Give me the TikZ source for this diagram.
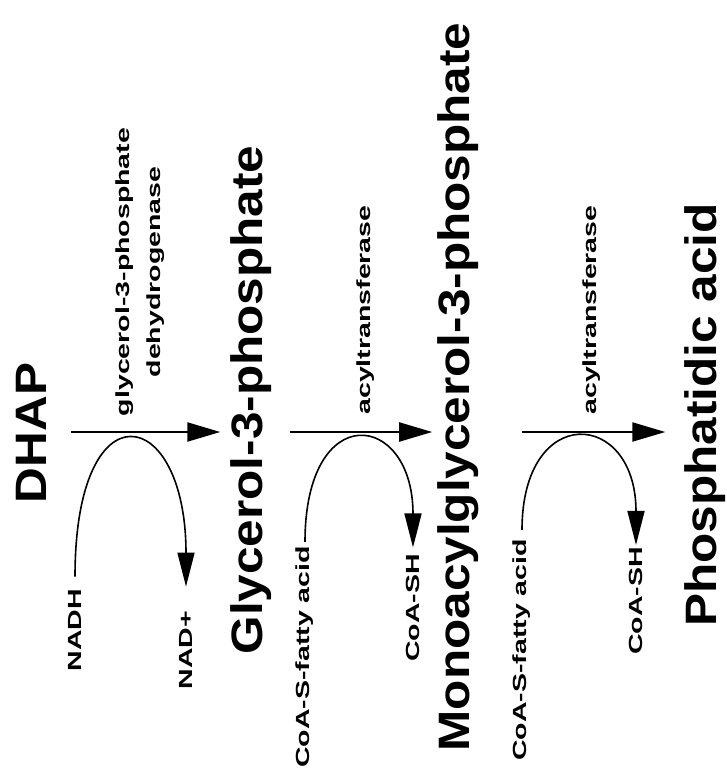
\documentclass[tikz,border=0pt]{standalone}
\usepackage{fontspec}
\setmainfont{Liberation Sans}
\newfontfamily\compoundfont[FakeStretch=1.125]{Liberation Sans}
\newfontfamily\agentfont[FakeStretch=1.5]{Liberation Sans}
\usetikzlibrary{arrows.meta}
\tikzset{
	compound/.style={
		rotate=90,
		inner sep=0pt,
		font=\compoundfont\bfseries\fontsize{44}{50}\selectfont
	},
	agent/.style={
		rotate=90,
		inner sep=0pt,
		font=\agentfont\bfseries\fontsize{19}{31}\selectfont
	},
	reaction/.style={
		-{Triangle[length=33pt,width=19pt]},
		line width=2.2pt
	},
	cofactor/.style={
		-{Triangle[length=34pt,width=17pt]},
		line width=1.6pt
	}
}

\begin{document}
\begin{tikzpicture}[x=1pt,y=-1pt]
	\useasboundingbox (0,0) rectangle (726,784);
	\coordinate (level) at (0,432);

	% Compounds
	\node[compound] (dhap) at (31,433) {DHAP};
	\node[compound] (g3p) at (251,400) {Glycerol-3-phosphate};
	\node[compound] (mag3p) at (458,387) {Monoacylglycerol-3-phosphate};
	\node[compound] (pa) at (705,415) {Phosphatidic acid};

	% Enzymes
	\node[agent, align=center] (gpdh) at (140,272) {glycerol-3-phosphate\\dehydrogenase};
	\node[agent] (acyl1) at (366,310) {acyltransferase};
	\node[agent] (acyl2) at (592,310) {acyltransferase};

	% Cofactors
	\node[agent] (nadh) at (75,630) {NADH};
	\node[agent] (nadp) at (186,650) {NAD+};
	\node[agent] (coas1) at (305,657) {CoA-S-fatty acid};
	\node[agent] (coash1) at (413,608) {CoA-SH};
	\node[agent] (coas2) at (522,650) {CoA-S-fatty acid};
	\node[agent] (coash2) at (636,601) {CoA-SH};

	% Reactions
	\draw[reaction, shorten <=25pt, shorten >=10pt] (dhap.south |- level) -- (level -| g3p.north);
	\draw[reaction, shorten <=18pt, shorten >=5pt] (g3p.south |- level) -- (level -| mag3p.north);
	\draw[reaction, shorten <=43pt, shorten >=19pt] (mag3p.south |- level) -- (level -| pa.north);

	% Cofactor loops
	\draw[cofactor, shorten <=12pt, shorten >=24pt] (nadh.east) .. controls +(0,-205) and +(0,-207) .. (nadp.east);
	\draw[cofactor, shorten <=4pt, shorten >=6.5pt] (coas1.east) .. controls +(0,-148) and +(0,-143) .. (coash1.east);
	\draw[cofactor, shorten <=9pt, shorten >=2pt] (coas2.east) .. controls +(0,-137) and +(0,-138) .. (coash2.east);
\end{tikzpicture}
\end{document}
